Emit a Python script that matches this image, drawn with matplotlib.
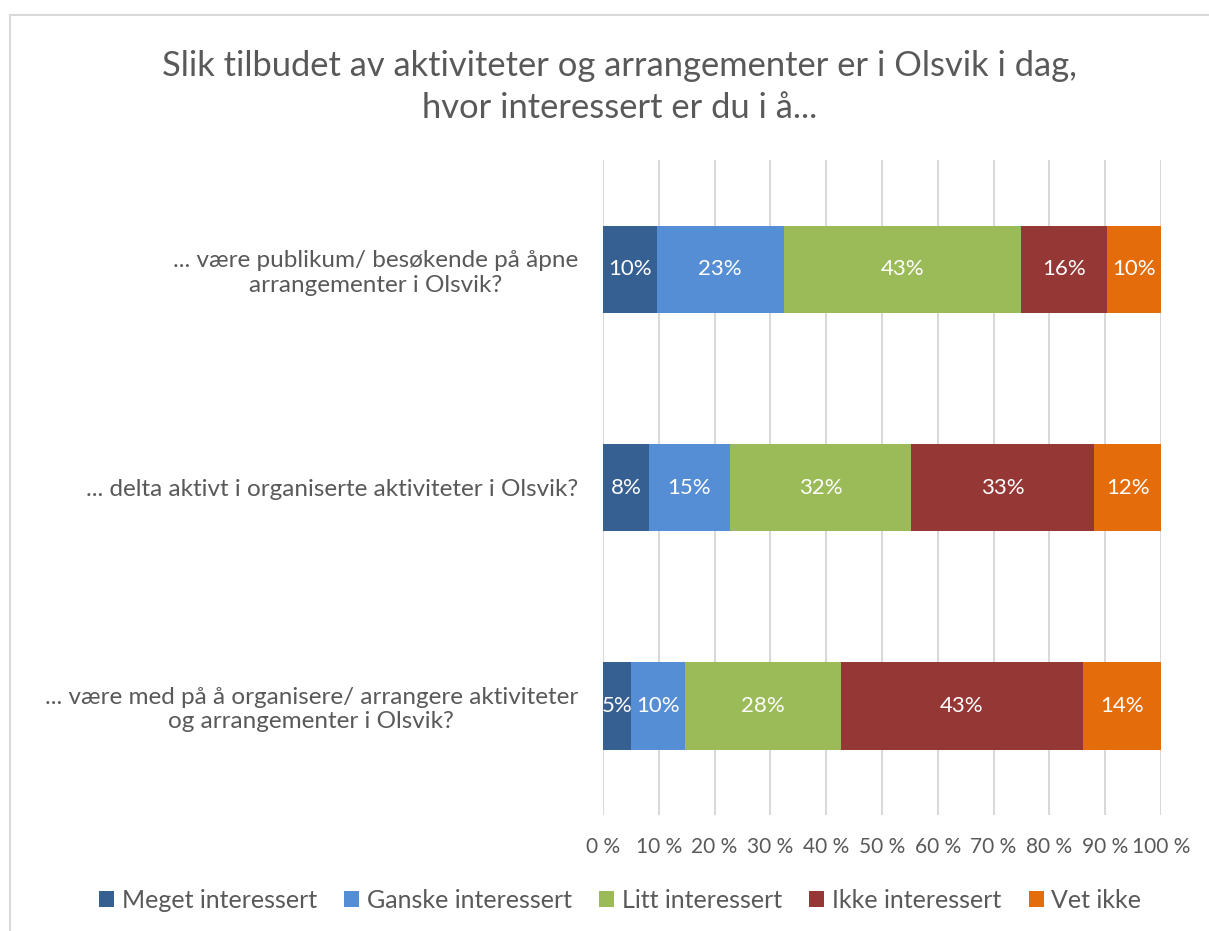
import matplotlib
import matplotlib.pyplot as plt
from matplotlib.patches import Rectangle

matplotlib.use("Agg")

plt.rcParams["font.family"] = ["Lato", "DejaVu Sans"]

TITLE = "Slik tilbudet av aktiviteter og arrangementer er i Olsvik i dag,\nhvor interessert er du i å..."

questions = [
    "... være publikum/ besøkende på åpne\narrangementer i Olsvik?",
    "... delta aktivt i organiserte aktiviteter i Olsvik?",
    "... være med på å organisere/ arrangere aktiviteter\nog arrangementer i Olsvik?",
]
series_names = [
    "Meget interessert",
    "Ganske interessert",
    "Litt interessert",
    "Ikke interessert",
    "Vet ikke",
]
# share of answers (%) per question, one list per answer option
meget = [9.6, 8.2, 5.0]
ganske = [22.8, 14.6, 9.7]
litt = [42.5, 32.4, 28.0]
ikke = [15.5, 32.8, 43.3]
vet_ikke = [9.6, 12.0, 14.0]
# labels as printed in the chart
meget_lbl = ["10%", "8%", "5%"]
ganske_lbl = ["23%", "15%", "10%"]
litt_lbl = ["43%", "32%", "28%"]
ikke_lbl = ["16%", "33%", "43%"]
vet_ikke_lbl = ["10%", "12%", "14%"]
tick_labels = ["0 %", "10 %", "20 %", "30 %", "40 %", "50 %", "60 %", "70 %", "80 %", "90 %", "100 %"]

colors = ["#376092", "#558ED5", "#9BBB59", "#953735", "#E46C0A"]
TEXT = "#595959"

fig = plt.figure(figsize=(12.09, 9.31), dpi=100)
ax = fig.add_axes([603 / 1209, 1 - 815 / 931, 558 / 1209, 655 / 931])

# chart frame (runs off the right/bottom edge like in the screenshot)
fig.patches.append(Rectangle((10 / 1209, -0.1), 1.2, 1 - 15 / 931 + 0.1,
                             transform=fig.transFigure, fill=False,
                             edgecolor="#D9D9D9", linewidth=1.5))

values = [meget, ganske, litt, ikke, vet_ikke]
labels = [meget_lbl, ganske_lbl, litt_lbl, ikke_lbl, vet_ikke_lbl]
ypos = list(range(len(questions)))
left = [0.0] * len(questions)
for name, vals, lbls, col in zip(series_names, values, labels, colors):
    bars = ax.barh(ypos, vals, left=left, height=0.4, color=col, label=name, zorder=3)
    ax.bar_label(bars, labels=lbls, label_type="center", color="white", fontsize=16)
    left = [l + v for l, v in zip(left, vals)]

ax.set_xlim(0, 100)
ax.set_ylim(2.5, -0.5)
ax.set_xticks(range(0, 101, 10))
ax.set_xticklabels(tick_labels)
ax.set_yticks(ypos)
ax.set_yticklabels(questions, ha="right", multialignment="center")
ax.tick_params(axis="x", length=0, pad=16, labelsize=15, labelcolor=TEXT)
ax.tick_params(axis="y", length=0, pad=18, labelsize=17.5, labelcolor=TEXT)
ax.xaxis.grid(True, color="#D9D9D9", linewidth=1.5, zorder=0)
for s in ax.spines.values():
    s.set_visible(False)

fig.text(620 / 1209, 1 - 87 / 931, TITLE, ha="center", va="center",
         fontsize=24.8, color=TEXT, linespacing=1.4)

fig.legend(loc="center", bbox_to_anchor=(620 / 1209, 1 - 900 / 931), ncol=5,
           frameon=False, fontsize=18, labelcolor=TEXT, handlelength=0.6,
           handleheight=0.6, handletextpad=0.3, columnspacing=1.1)

fig.savefig("out.png", dpi=100)
